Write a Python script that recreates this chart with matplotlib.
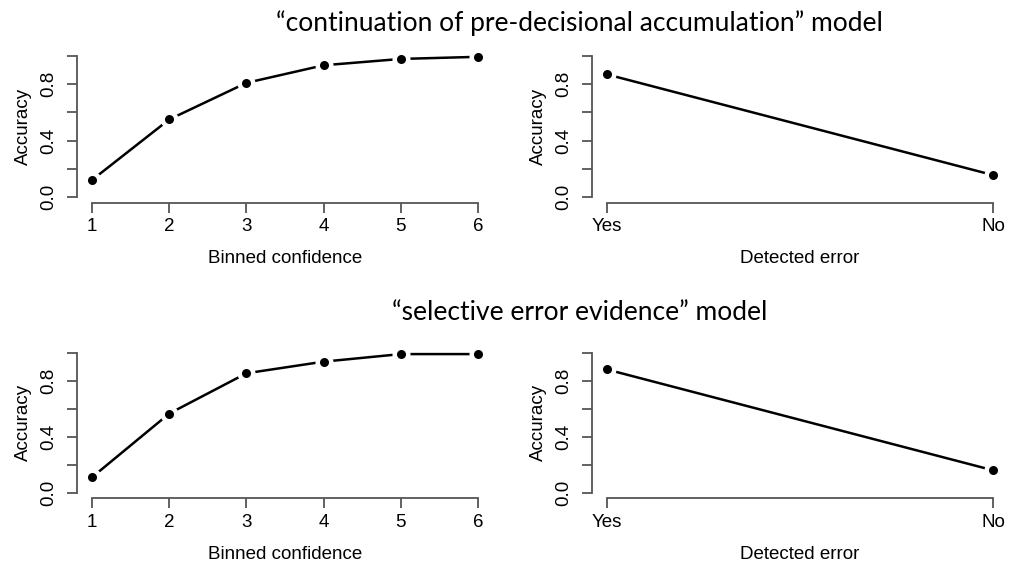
import matplotlib
matplotlib.use("Agg")
import matplotlib.pyplot as plt

# values
confidence_bins = [1, 2, 3, 4, 5, 6]
acc_conf_continuation = [0.12, 0.55, 0.81, 0.935, 0.98, 0.995]
acc_conf_selective = [0.11, 0.565, 0.853, 0.936, 0.99, 0.99]

detected_labels = ["Yes", "No"]
acc_detect_continuation = [0.87, 0.155]
acc_detect_selective = [0.88, 0.16]

title_top = "\u201ccontinuation of pre-decisional accumulation\u201d model"
title_bottom = "\u201cselective error evidence\u201d model"

plt.rcParams['font.family'] = ['Liberation Sans', 'DejaVu Sans']
axcol = '#555555'

fig = plt.figure(figsize=(10.13, 5.61), dpi=100)

W = 0.4115
H = 0.271
ax_tl = fig.add_axes([0.0756, 0.639, W, H])
ax_tr = fig.add_axes([0.584, 0.639, W, H])
ax_bl = fig.add_axes([0.0756, 0.1118, W, 0.2695])
ax_br = fig.add_axes([0.584, 0.1118, W, 0.2695])


def r_style(ax, xticks, xlabels, xlabel):
    ax.set_ylim(-0.04, 1.04)
    lo, hi = xticks[0], xticks[-1]
    pad = 0.04 * (hi - lo)
    ax.set_xlim(lo - pad, hi + pad)
    for s in ['top', 'right']:
        ax.spines[s].set_visible(False)
    ax.spines['left'].set_bounds(0, 1)
    ax.spines['bottom'].set_bounds(lo, hi)
    for s in ['left', 'bottom']:
        ax.spines[s].set_color(axcol)
        ax.spines[s].set_linewidth(1.3)
    ax.set_yticks([0, 0.2, 0.4, 0.6, 0.8, 1.0])
    ax.set_yticklabels(['0.0', '', '0.4', '', '0.8', ''], rotation=90, va='center')
    ax.set_xticks(xticks)
    ax.set_xticklabels(xlabels)
    ax.tick_params(length=7, width=1.3, color=axcol, labelsize=13.5)
    ax.tick_params(axis='x', pad=4)
    ax.tick_params(axis='y', pad=7)
    ax.set_ylabel('Accuracy', fontsize=13.5, labelpad=6)
    ax.set_xlabel(xlabel, fontsize=13.5, labelpad=11)


def draw(ax, x, y):
    ax.plot(x, y, color='black', lw=1.8, zorder=2)
    ax.plot(x, y, 'o', color='black', ms=6, mec='white', mew=7, zorder=3)
    ax.plot(x, y, 'o', color='black', ms=6.5, mec='black', mew=0, zorder=4)


draw(ax_tl, confidence_bins, acc_conf_continuation)
r_style(ax_tl, confidence_bins, [str(c) for c in confidence_bins], 'Binned confidence')

draw(ax_tr, [1, 2], acc_detect_continuation)
r_style(ax_tr, [1, 2], detected_labels, 'Detected error')

draw(ax_bl, confidence_bins, acc_conf_selective)
r_style(ax_bl, confidence_bins, [str(c) for c in confidence_bins], 'Binned confidence')

draw(ax_br, [1, 2], acc_detect_selective)
r_style(ax_br, [1, 2], detected_labels, 'Detected error')

fig.text(0.572, 0.958, title_top, ha='center', va='center', fontsize=19,
         family=['Lato', 'DejaVu Sans'])
fig.text(0.572, 0.443, title_bottom, ha='center', va='center', fontsize=19,
         family=['Lato', 'DejaVu Sans'])

fig.savefig('out.png', dpi=100)
